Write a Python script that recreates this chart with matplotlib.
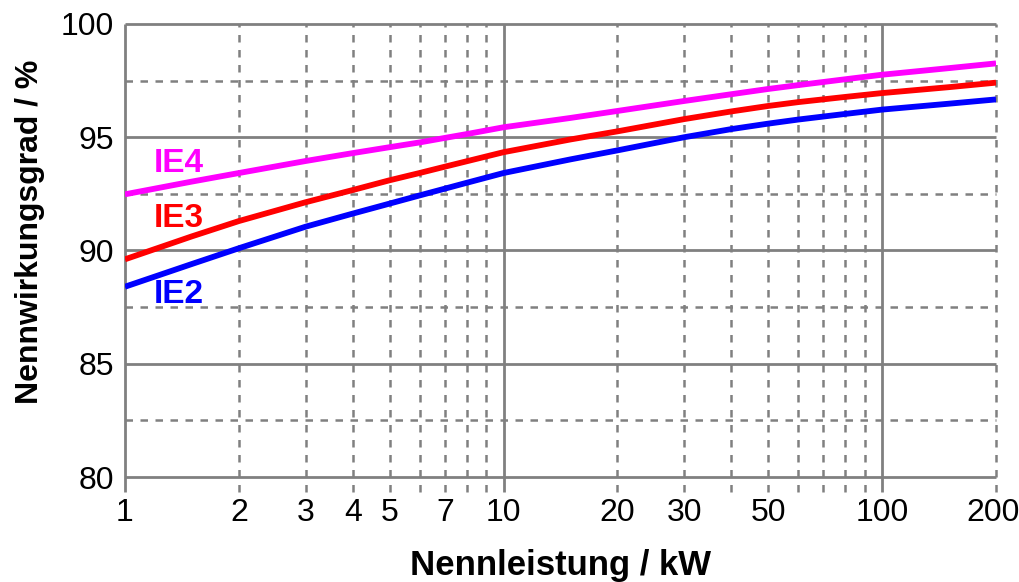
import matplotlib
matplotlib.use("Agg")
import matplotlib.pyplot as plt

plt.rcParams['font.family'] = ['Liberation Sans', 'DejaVu Sans']

# Nennleistung in kW and read-off efficiencies in %
power_kw = [1, 1.5, 2, 3, 4, 5, 6, 7, 8, 10, 15, 20, 30, 40, 50, 60, 80, 100, 150, 200]
ie4 = [92.48, 93.04, 93.42, 93.95, 94.3, 94.56, 94.77, 94.97, 95.14, 95.44, 95.85, 96.16,
       96.6, 96.9, 97.13, 97.3, 97.56, 97.76, 98.05, 98.26]
ie3 = [89.61, 90.62, 91.3, 92.13, 92.67, 93.1, 93.42, 93.7, 93.94, 94.34, 94.9, 95.26,
       95.8, 96.14, 96.38, 96.55, 96.78, 96.95, 97.21, 97.41]
ie2 = [88.40, 89.40, 90.1, 91.05, 91.63, 92.07, 92.43, 92.73, 92.99, 93.42, 94.02, 94.42,
       95.0, 95.36, 95.6, 95.78, 96.03, 96.22, 96.48, 96.67]

x_ticks = [1, 2, 3, 4, 5, 7, 10, 20, 30, 50, 100, 200]
x_major = [1, 10, 100]
x_minor = [2, 3, 4, 5, 6, 7, 8, 9, 20, 30, 40, 50, 60, 70, 80, 90, 200]
y_major = [80, 85, 90, 95, 100]
y_minor = [82.5, 87.5, 92.5, 97.5]

fig = plt.figure(figsize=(10.2, 5.82), dpi=100)
ax = fig.add_axes([0.1225, 0.1804, 0.854, 0.7784])

ax.set_xscale('log')
ax.set_xlim(1, 200)
ax.set_ylim(80, 100)

grid_col = '#808080'
# vertical grid, extends a bit below the axis
ax.vlines(x_major, 79.35, 100, colors=grid_col, linewidth=2.0, clip_on=False, zorder=1)
ax.vlines(x_minor, 79.35, 100, colors=grid_col, linewidth=1.8, linestyles=(0, (3, 3)),
          clip_on=False, zorder=1)
ax.hlines(y_major, 1, 200, colors=grid_col, linewidth=2.0, clip_on=False, zorder=1)
ax.hlines(y_minor, 1, 200, colors=grid_col, linewidth=1.8, linestyles=(0, (3, 3)),
          clip_on=False, zorder=1)

for s in ax.spines.values():
    s.set_visible(False)

ax.plot(power_kw, ie4, color='#ff00ff', linewidth=4.2, zorder=3, solid_capstyle='butt')
ax.plot(power_kw, ie3, color='#ff0000', linewidth=4.2, zorder=3, solid_capstyle='butt')
ax.plot(power_kw, ie2, color='#0000ff', linewidth=4.2, zorder=3, solid_capstyle='butt')

ax.text(1.19, 93.85, 'IE4', color='#ff00ff', fontsize=24, fontweight='bold', va='center', ha='left')
ax.text(1.19, 91.4, 'IE3', color='#ff0000', fontsize=24, fontweight='bold', va='center', ha='left')
ax.text(1.19, 88.05, 'IE2', color='#0000ff', fontsize=24, fontweight='bold', va='center', ha='left')

ax.set_xticks(x_ticks)
ax.set_xticklabels([str(v) for v in x_ticks])
ax.xaxis.set_minor_locator(matplotlib.ticker.NullLocator())
ax.set_yticks(y_major)
ax.set_yticklabels([str(v) for v in y_major])
ax.tick_params(axis='both', length=0, labelsize=23, colors='black')
ax.tick_params(axis='x', pad=15)
ax.tick_params(axis='y', pad=8)
# keep the last label inside the picture
ax.get_xticklabels()[-1].set_horizontalalignment('right')
ax.get_xticklabels()[-1].set_x(200)
import matplotlib.transforms as mtransforms
lbl = ax.get_xticklabels()[-1]
lbl.set_transform(lbl.get_transform() + mtransforms.ScaledTranslation(24 / 100, 0, fig.dpi_scale_trans))

ax.set_xlabel('Nennleistung / kW', fontsize=25, fontweight='bold', labelpad=15)
ax.set_ylabel('Nennwirkungsgrad / %', fontsize=23, fontweight='bold')
ax.yaxis.set_label_coords(-0.092, 0.541)

fig.savefig('out.png', dpi=100)
